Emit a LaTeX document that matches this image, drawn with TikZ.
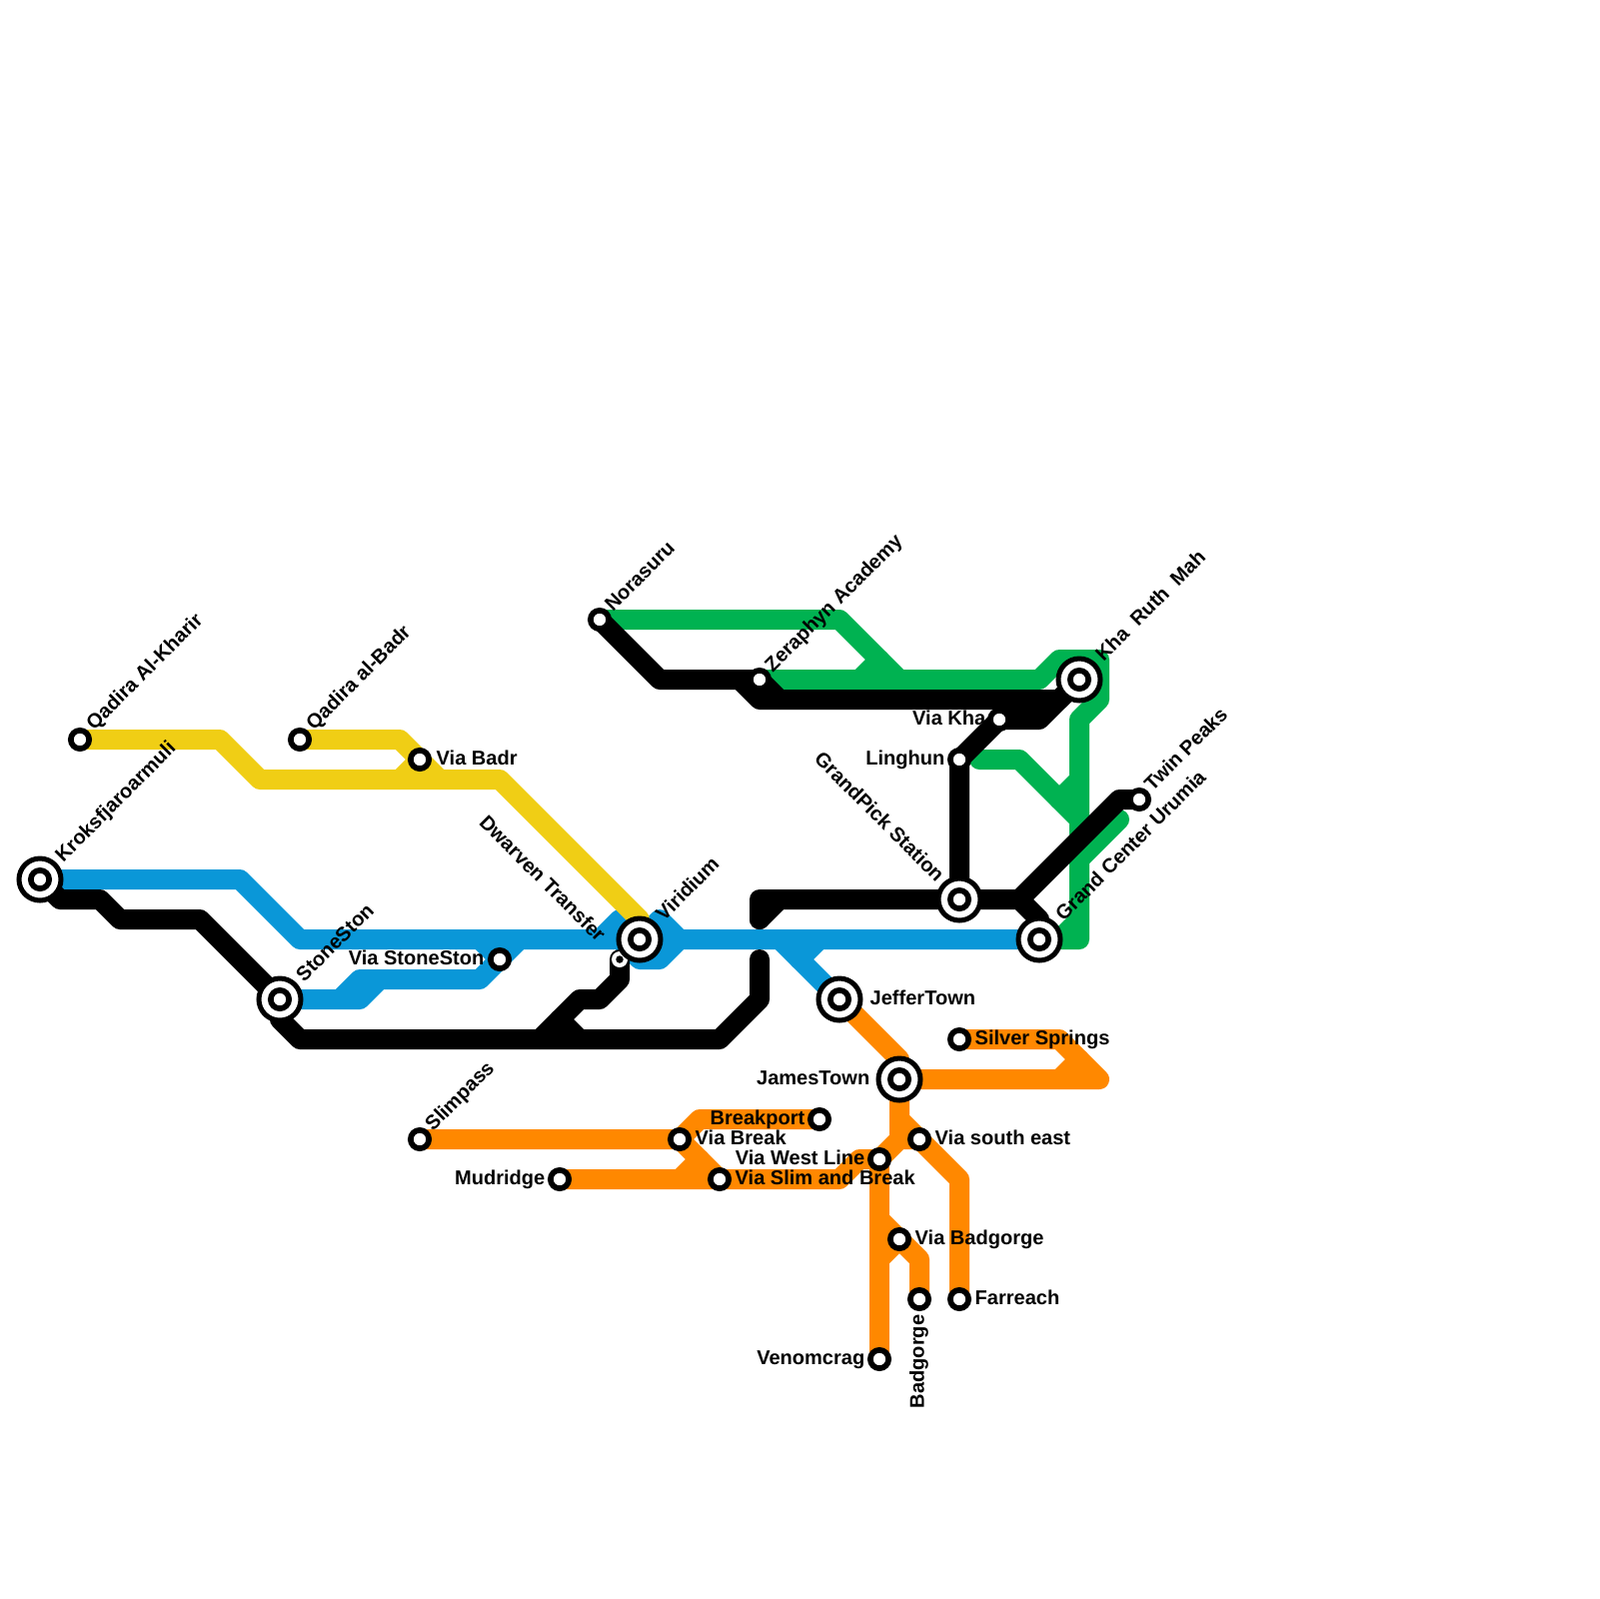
\documentclass[tikz,border=0pt]{standalone}
\usepackage{fontspec}
\setmainfont{Liberation Sans}
\usepackage{tikz}
\usetikzlibrary{calc}
\definecolor{linegreen}{HTML}{00B251}
\definecolor{lineblue}{HTML}{0A97D8}
\definecolor{lineyellow}{HTML}{F0CE15}
\definecolor{lineorange}{HTML}{FF8800}

\begin{document}
\begin{tikzpicture}[x=0.1mm, y=-0.1mm,
    metro/.style={line width=2mm, line join=round, line cap=round},
    stn/.style={circle, draw=black, fill=white, line width=0.57mm, minimum size=1.83mm, inner sep=0pt, outer sep=0pt},
    hub/.style={circle, draw=black, fill=white, line width=0.5mm, minimum size=4.2mm, inner sep=0pt, outer sep=0pt},
    dot/.style={circle, fill=white, minimum size=1.6mm, inner sep=0pt, outer sep=0pt},
    pip/.style={circle, fill=black, minimum size=0.75mm, inner sep=0pt, outer sep=0pt},
    lbl/.style={font=\fontsize{5.7pt}{6pt}\selectfont\bfseries, inner sep=0pt, text height=1.45mm, text depth=0.35mm},
    lblup/.style={lbl, rotate=45, anchor=west},
    lbldown/.style={lbl, rotate=-45, anchor=east}
  ]
  \useasboundingbox (0,0) rectangle (1600,1600);

  % stations
  \coordinate (qkharir) at (80,740);
  \coordinate (qbadr) at (300,740);
  \coordinate (viabadr) at (420,760);
  \coordinate (kroks) at (40,880);
  \coordinate (stoneston) at (280,1000);
  \coordinate (viastone) at (500,960);
  \coordinate (viridium) at (640,940);
  \coordinate (dwarven) at (620,960);
  \coordinate (norasuru) at (600,620);
  \coordinate (zeraphyn) at (760,680);
  \coordinate (kharuth) at (1080,680);
  \coordinate (viakha) at (1000,720);
  \coordinate (linghun) at (960,760);
  \coordinate (grandpick) at (960,900);
  \coordinate (grandcenter) at (1040,940);
  \coordinate (twinpeaks) at (1140,800);
  \coordinate (jeffer) at (840,1000);
  \coordinate (james) at (900,1080);
  \coordinate (silver) at (960,1040);
  \coordinate (breakport) at (820,1120);
  \coordinate (slimpass) at (420,1140);
  \coordinate (viabreak) at (680,1140);
  \coordinate (viase) at (920,1140);
  \coordinate (viawest) at (880,1160);
  \coordinate (mudridge) at (560,1180);
  \coordinate (viaslim) at (720,1180);
  \coordinate (viabadg) at (900,1240);
  \coordinate (badgorge) at (920,1300);
  \coordinate (farreach) at (960,1300);
  \coordinate (venomcrag) at (880,1360);

  % green
  \draw[metro, linegreen] (norasuru) -- (840,620) -- (900,680);
  \draw[metro, linegreen] (zeraphyn) -- (1040,680) -- (1060,660) -- (1100,660) -- (1100,700) -- (1080,720) -- (1080,940) -- (grandcenter);
  \draw[metro, linegreen] (860,680) -- (880,660);
  \draw[metro, linegreen] (980,760) -- (1020,760) -- (1080,820);
  \draw[metro, linegreen] (1080,780) -- (1060,800);
  \draw[metro, linegreen] (1120,820) -- (1080,860);
  \draw[metro, linegreen] (1080,920) -- (1060,940);

  % blue
  \draw[metro, lineblue] (kroks) -- (240,880) -- (300,940) -- (620,940) -- (640,960) -- (660,960) -- (680,940) -- (grandcenter);
  \draw[metro, lineblue] (600,940) -- (620,920) -- (viridium);
  \draw[metro, lineblue] (viridium) -- (660,920) -- (680,940) -- (viridium);
  \draw[metro, lineblue] (stoneston) -- (360,1000) -- (380,980) -- (480,980) -- (520,940);
  \draw[metro, lineblue] (340,1000) -- (360,980) -- (380,980);
  \draw[metro, lineblue] (480,940) -- (viastone);
  \draw[metro, lineblue] (780,940) -- (jeffer);
  \draw[metro, lineblue] (820,940) -- (800,960);

  % yellow
  \draw[metro, lineyellow] (qkharir) -- (220,740) -- (260,780) -- (500,780) -- (640,920) -- (viridium);
  \draw[metro, lineyellow] (qbadr) -- (400,740) -- (440,780);
  \draw[metro, lineyellow] (400,780) -- (viabadr);

  % orange
  \draw[metro, lineorange] (jeffer) -- (900,1060) -- (james) -- (900,1120) -- (960,1180) -- (farreach);
  \draw[metro, lineorange] (james) -- (1100,1080) -- (1060,1040) -- (silver);
  \draw[metro, lineorange] (1060,1080) -- (1080,1060);
  \draw[metro, lineorange] (slimpass) -- (viabreak) -- (700,1120) -- (breakport);
  \draw[metro, lineorange] (viabreak) -- (viaslim);
  \draw[metro, lineorange] (680,1180) -- (700,1160);
  \draw[metro, lineorange] (mudridge) -- (840,1180) -- (860,1160) -- (viawest) -- (900,1140) -- (viase);
  \draw[metro, lineorange] (900,1120) -- (900,1140);
  \draw[metro, lineorange] (viawest) -- (venomcrag);
  \draw[metro, lineorange] (880,1220) -- (920,1260) -- (badgorge);
  \draw[metro, lineorange] (880,1260) -- (viabadg);

  % black
  \draw[metro, black] (kroks) -- (60,900) -- (100,900) -- (120,920) -- (200,920) -- (stoneston) -- (280,1020) -- (300,1040) -- (720,1040) -- (760,1000) -- (760,960);
  \draw[metro, black] (dwarven) -- (620,980) -- (600,1000) -- (580,1000) -- (540,1040);
  \draw[metro, black] (560,1020) -- (580,1040);
  \draw[metro, black] (760,920) -- (760,900) -- (grandpick) -- (1020,900) -- (1040,920) -- (grandcenter);
  \draw[metro, black] (760,920) -- (780,900);
  \draw[metro, black] (1020,900) -- (1120,800) -- (twinpeaks);
  \draw[metro, black] (grandpick) -- (linghun) -- (1000,720) -- (1040,720) -- (kharuth);
  \draw[metro, black] (norasuru) -- (660,680) -- (zeraphyn) -- (780,700);
  \draw[metro, black] (740,680) -- (760,700) -- (1060,700) -- (kharuth);

  % small stop under the ring
  \node[dot] (sdwarven) at (dwarven) {};
  \node[pip] (pdwarven) at (dwarven) {};
  % interchange rings
  \foreach \s in {kroks, stoneston, viridium, grandpick, grandcenter, kharuth, jeffer, james}
    \node[hub] (hub\s) at (\s) {};
  \foreach \s in {qkharir, qbadr, viabadr, kroks, stoneston, viastone, viridium, norasuru, zeraphyn, kharuth, viakha, linghun, grandpick, grandcenter, twinpeaks, jeffer, james, silver, breakport, slimpass, viabreak, viase, viawest, mudridge, viaslim, viabadg, badgorge, farreach, venomcrag}
    \node[stn] (stn\s) at (\s) {};

  % labels
  \node[lblup] (lqkharir) at ($(qkharir)+(10,-12)$) {Qadira Al-Kharir};
  \node[lblup] (lqbadr) at ($(qbadr)+(10,-12)$) {Qadira al-Badr};
  \node[lbl, anchor=west] (lviabadr) at ($(viabadr)+(16,0)$) {Via Badr};
  \node[lblup] (lkroks) at ($(kroks)+(19,-20)$) {Kroksfjaroarmuli};
  \node[lblup] (lstoneston) at ($(stoneston)+(20,-20)$) {StoneSton};
  \node[lbl, anchor=east] (lviastone) at ($(viastone)+(-15,0)$) {Via StoneSton};
  \node[lbldown] (ldwarven) at ($(dwarven)+(-18,-20)$) {Dwarven Transfer};
  \node[lblup] (lviridium) at ($(viridium)+(20,-21)$) {Viridium};
  \node[lblup] (lnorasuru) at ($(norasuru)+(9,-11)$) {Norasuru};
  \node[lblup] (lzeraphyn) at ($(zeraphyn)+(9,-10)$) {Zeraphyn Academy};
  \node[lblup] (lkharuth) at ($(kharuth)+(20,-21)$) {Kha~~Ruth~~Mah};
  \node[lbl, anchor=east] (lviakha) at ($(viakha)+(-13,0)$) {Via Kha};
  \node[lbl, anchor=east] (llinghun) at ($(linghun)+(-14,0)$) {Linghun};
  \node[lbldown] (lgrandpick) at ($(grandpick)+(-19,-20)$) {GrandPick Station};
  \node[lblup] (lgrandcenter) at ($(grandcenter)+(20,-21)$) {Grand Center Urumia};
  \node[lblup] (ltwinpeaks) at ($(twinpeaks)+(9,-11)$) {Twin Peaks};
  \node[lbl, anchor=west] (ljeffer) at ($(jeffer)+(30,0)$) {JefferTown};
  \node[lbl, anchor=east] (ljames) at ($(james)+(-29,0)$) {JamesTown};
  \node[lbl, anchor=west] (lsilver) at ($(silver)+(15,0)$) {Silver Springs};
  \node[lbl, anchor=east] (lbreakport) at ($(breakport)+(-14,0)$) {Breakport};
  \node[lblup] (lslimpass) at ($(slimpass)+(9,-11)$) {Slimpass};
  \node[lbl, anchor=west] (lviabreak) at ($(viabreak)+(15,0)$) {Via Break};
  \node[lbl, anchor=west] (lviase) at ($(viase)+(15,0)$) {Via south east};
  \node[lbl, anchor=east] (lviawest) at ($(viawest)+(-14,0)$) {Via West Line};
  \node[lbl, anchor=east] (lmudridge) at ($(mudridge)+(-14,0)$) {Mudridge};
  \node[lbl, anchor=west] (lviaslim) at ($(viaslim)+(15,0)$) {Via Slim and Break};
  \node[lbl, anchor=west] (lviabadg) at ($(viabadg)+(15,0)$) {Via Badgorge};
  \node[lbl, rotate=90, anchor=east] (lbadgorge) at ($(badgorge)+(-1,15)$) {Badgorge};
  \node[lbl, anchor=west] (lfarreach) at ($(farreach)+(15,0)$) {Farreach};
  \node[lbl, anchor=east] (lvenomcrag) at ($(venomcrag)+(-14,0)$) {Venomcrag};
\end{tikzpicture}
\end{document}
